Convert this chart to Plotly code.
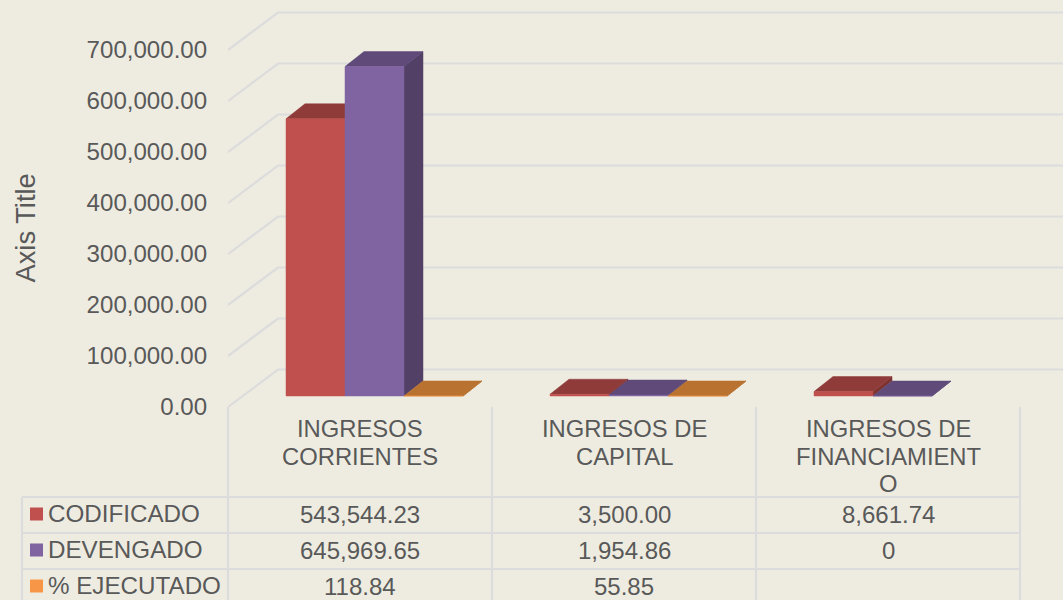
import plotly.graph_objects as go

# ---- data ----
categories = ["INGRESOS\nCORRIENTES", "INGRESOS DE\nCAPITAL", "INGRESOS DE\nFINANCIAMIENT\nO"]
series_names = ["CODIFICADO", "DEVENGADO", "% EJECUTADO"]
codificado = [543544.23, 3500.00, 8661.74]
devengado = [645969.65, 1954.86, 0]
ejecutado = [118.84, 55.85, None]
y_ticks = [0, 100000, 200000, 300000, 400000, 500000, 600000, 700000]

# ---- style ----
W, H = 1063, 600
BG = "#eeece1"
TXT = "#595959"
GRID = "#dcdcdc"
FRONT = ["#c0504d", "#8064a2", "#f79646"]
TOP = ["#8f3b39", "#5f4a79", "#b9722f"]
SIDE = ["#7f3331", "#524067", "#a8672a"]
FS = 23.8
X0, Y0 = 228, 407       # pixel of chart origin (front corner of the floor)
CAT_W = 264
PX_PER_VAL = 0.51 / 1000
WALL_DX, WALL_DY = 50, 37.5
BAR_DX0 = 58            # first bar left edge within a category
BAR_W = 59
BAR_DY0 = 11
BAR_DX, BAR_DY = 19, 15


def xu(px):
    return px / CAT_W


def yu(px):
    return px / PX_PER_VAL


def fmt(v):
    if v is None:
        return ""
    return "0" if v == 0 else f"{v:,.2f}"


fig = go.Figure()

# back wall + side wall gridlines
gx, gy = [], []
xmax = (W - X0) / CAT_W
for t in y_ticks:
    gx += [0, xu(WALL_DX), xmax, None]
    gy += [t, t + yu(WALL_DY), t + yu(WALL_DY), None]
fig.add_trace(go.Scatter(x=gx, y=gy, mode="lines", line=dict(color=GRID, width=2.2),
                         hoverinfo="skip", showlegend=False))

# bars: side, top, front faces for every series
for s, values in enumerate([codificado, devengado, ejecutado]):
    faces = {"side": ([], []), "top": ([], []), "front": ([], [])}
    for c, v in enumerate(values):
        if v is None:
            continue
        xl = c + xu(BAR_DX0 + s * BAR_W)
        xr = xl + xu(BAR_W)
        b = yu(BAR_DY0)
        ddx, ddy = xu(BAR_DX), yu(BAR_DY)
        top = b + v
        poly = {
            "side": ([xr, xr + ddx, xr + ddx, xr], [b, b + ddy, top + ddy, top]),
            "top": ([xl, xr, xr + ddx, xl + ddx], [top, top, top + ddy, top + ddy]),
            "front": ([xl, xr, xr, xl], [b, b, top, top]),
        }
        for k, (px_, py_) in poly.items():
            faces[k][0].extend(px_ + [px_[0], None])
            faces[k][1].extend(py_ + [py_[0], None])
    for k, col in (("side", SIDE[s]), ("top", TOP[s]), ("front", FRONT[s])):
        fig.add_trace(go.Scatter(x=faces[k][0], y=faces[k][1], mode="lines", fill="toself",
                                 fillcolor=col, line=dict(color=col, width=0.5),
                                 hoverinfo="skip", showlegend=False))


def px2x(p):
    return p / W


def px2y(p):
    return 1 - p / H


def text(s, xp, yp, anchor="center", size=FS, angle=0):
    fig.add_annotation(text=s, x=px2x(xp), y=px2y(yp), xref="paper", yref="paper",
                       xanchor=anchor, yanchor="middle", showarrow=False, textangle=angle,
                       font=dict(family="Liberation Sans", size=size, color=TXT))


def line(x0, y0, x1, y1, w=2.2):
    fig.add_shape(type="line", xref="paper", yref="paper", x0=px2x(x0), x1=px2x(x1),
                  y0=px2y(y0), y1=px2y(y1), line=dict(color=GRID, width=w))


# data table
ROWS = [497, 533, 569]
COLS = [X0 + i * CAT_W for i in range(4)]
for r in ROWS:
    line(22, r, COLS[-1], r)
line(22, ROWS[0], 22, H)
for i, cx in enumerate(COLS):
    line(cx, Y0, cx, H)

LINE_H = 27.5
for c, label in enumerate(categories):
    cx = COLS[c] + CAT_W / 2
    for j, part in enumerate(label.split("\n")):
        text(part, cx, 428.5 + j * LINE_H)

KEY_Y = [514, 550, 586]
for s, (name, values) in enumerate(zip(series_names, [codificado, devengado, ejecutado])):
    ky = KEY_Y[s]
    fig.add_shape(type="rect", xref="paper", yref="paper", x0=px2x(30), x1=px2x(43),
                  y0=px2y(ky - 6.5), y1=px2y(ky + 6.5), fillcolor=FRONT[s], line_width=0)
    text(name, 45.5, ky - 0.5, anchor="left", size=24.2)
    for c, v in enumerate(values):
        text(fmt(v), COLS[c] + CAT_W / 2, ky, size=24)

text("Axis Title", 25, 228.5, angle=-90, size=27.3)

fig.update_layout(
    width=W, height=H, margin=dict(l=0, r=0, t=0, b=0),
    paper_bgcolor=BG, plot_bgcolor=BG, showlegend=False,
    font=dict(family="Liberation Sans", size=FS, color=TXT),
    xaxis=dict(domain=[X0 / W, 1], range=[0, xmax], visible=False, fixedrange=True, automargin=False),
    yaxis=dict(domain=[1 - Y0 / H, 1], range=[0, yu(Y0)], tickmode="array", automargin=False,
               tickvals=y_ticks, ticktext=[f"{t:,.2f}" for t in y_ticks],
               showgrid=False, zeroline=False, showline=False, ticks="outside",
               ticklen=15, tickcolor=BG, tickwidth=1, fixedrange=True,
               tickfont=dict(family="Liberation Sans", size=24.1, color=TXT)),
)

POST = (
    "document.body.style.margin='0';"
    "document.documentElement.style.background='#eeece1';"
)
fig.write_html("out.html", config={"displayModeBar": False}, post_script=POST)
